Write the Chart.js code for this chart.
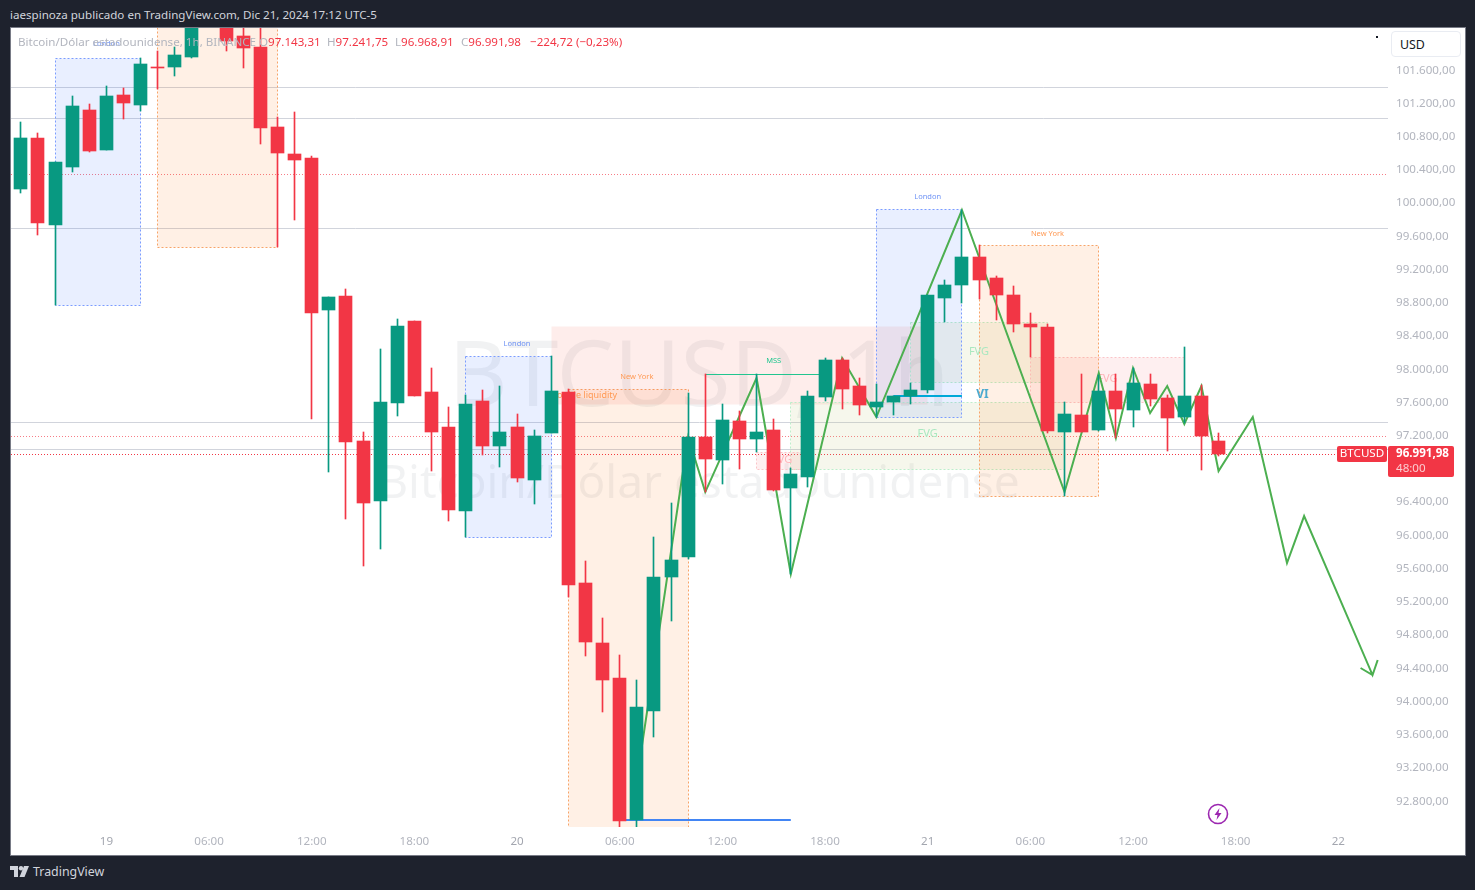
<!DOCTYPE html>
<html lang="es">
<head>
<meta charset="utf-8">
<title>BTCUSD 1h</title>
<script src="https://cdn.jsdelivr.net/npm/chart.js@4/dist/chart.umd.min.js"></script>
<style>
  html, body { margin: 0; padding: 0; background: #1e222d; overflow: hidden; }
  body { width: 1475px; height: 890px; position: relative; font-family: "Noto Sans", sans-serif; }
  .abs { position: absolute; white-space: nowrap; line-height: 16px; }
  #panel { position: absolute; left: 10px; top: 27px; width: 1454px; height: 827px; background: #fff; border: 1px solid #787b86; }
  #chart { position: absolute; left: 11px; top: 28px; }
  .leg { font-size: 11.6px; color: #b2b5be; top: 34px; }
  .red { color: #f23645; }
</style>
</head>
<body>
<div class="abs" style="left:10px;top:7px;font-size:11.6px;color:#d1d4dc">iaespinoza publicado en TradingView.com, Dic 21, 2024 17:12 UTC-5</div>
<div id="panel"></div>
<canvas id="chart" width="1453" height="826"></canvas>

<div class="abs leg" style="left:18px">Bitcoin/Dólar estadounidense, 1h, BINANCE</div>
<div class="abs leg" style="left:259px">O<span class="red">97.143,31</span></div>
<div class="abs leg" style="left:327px">H<span class="red">97.241,75</span></div>
<div class="abs leg" style="left:395px">L<span class="red">96.968,91</span></div>
<div class="abs leg" style="left:461px">C<span class="red">96.991,98</span></div>
<div class="abs leg red" style="left:530px">−224,72 (−0,23%)</div>

<div class="abs" style="left:1391px;top:31px;width:60px;height:24px;padding-left:8px;border:1px solid #e9ecf2;border-radius:4px;background:#fff;font-size:12.4px;line-height:25px;color:#131722">USD</div>
<div class="abs" style="left:1376px;top:36px;width:2px;height:2px;background:#131722"></div>

<svg class="abs" style="left:1207px;top:803px" width="22" height="22" viewBox="0 0 22 22">
  <circle cx="11" cy="11" r="9.5" fill="#fff" stroke="#9c27b0" stroke-width="1.6"/>
  <path d="M12.5 5 L7.5 12 H10.5 L9.5 17 L14.5 10 H11.5 Z" fill="#9c27b0"/>
</svg>

<svg class="abs" style="left:10px;top:866px" width="20" height="12" viewBox="0 0 20 12">
  <path d="M0 0 H8 V11 H4 V4 H0 Z" fill="#d1d4dc"/>
  <circle cx="11" cy="2.2" r="2.2" fill="#d1d4dc"/>
  <path d="M14 0 H19 L14.5 11 H9.5 Z" fill="#d1d4dc"/>
</svg>
<div class="abs" style="left:33px;top:864px;font-size:12.4px;color:#d1d4dc">TradingView</div>

<script>
// Hours counted from 19 Dec 00:00, one candle per hour
const hours = [
  -5, -4, -3, -2, -1, 0, 1, 2, 3, 4,
  5, 6, 7, 8, 9, 10, 11, 12, 13, 14,
  15, 16, 17, 18, 19, 20, 21, 22, 23, 24,
  25, 26, 27, 28, 29, 30, 31, 32, 33, 34,
  35, 36, 37, 38, 39, 40, 41, 42, 43, 44,
  45, 46, 47, 48, 49, 50, 51, 52, 53, 54,
  55, 56, 57, 58, 59, 60, 61, 62, 63, 64,
  65,
];
const opens = [
  100182, 100796, 99748, 100447, 101133, 100651, 101313, 101193, 101650, 101650,
  101771, 102240, 102200, 102024, 101891, 100928, 100603, 100555, 98725, 98894,
  97148, 96426, 97606, 98593, 97738, 97317, 96306, 97630, 97088, 97317,
  96679, 97245, 97738, 95439, 94717, 94295, 92586, 93898, 95511, 95752,
  97196, 96919, 97389, 97172, 97281, 96583, 96715, 97678, 98123, 97810,
  97557, 97618, 97690, 97762, 98870, 99026, 99363, 99110, 98906, 98557,
  98521, 97257, 97461, 97281, 97750, 97521, 97834, 97666, 97437, 97690,
  97143.31,
];
const highs = [
  100988, 100856, 100507, 101301, 101205, 101422, 101398, 101759, 101843, 101891,
  102337, 102400, 102300, 102200, 102150, 101049, 101109, 100579, 98882, 98978,
  97257, 98256, 98617, 98593, 98027, 97557, 97702, 97762, 97810, 97473,
  97281, 98171, 97774, 95704, 95017, 94572, 94271, 95992, 96402, 97726,
  97955, 97594, 97509, 97955, 97413, 96823, 97750, 98147, 98147, 97907,
  97834, 97690, 97846, 98906, 99086, 99929, 99508, 99134, 99014, 98689,
  98557, 97618, 97955, 97943, 97955, 98027, 97955, 97702, 98280, 97822,
  97241.75,
];
const lows = [
  100134, 99628, 98785, 100386, 100627, 100651, 101024, 101121, 101386, 101542,
  101759, 102180, 101843, 101638, 100724, 99484, 99809, 97413, 96775, 96209,
  95643, 95848, 97449, 97690, 96787, 96185, 95992, 96980, 96835, 96655,
  96390, 97245, 95270, 94560, 93886, 92490, 92490, 93585, 94981, 95728,
  96534, 96631, 96811, 97016, 96546, 95547, 96595, 97630, 97533, 97461,
  97437, 97461, 97594, 97726, 98581, 98809, 98858, 98605, 98460, 98159,
  97245, 96486, 97257, 97269, 97184, 97317, 97570, 97028, 97365, 96799,
  96968.91,
];
const closes = [
  100796, 99773, 100507, 101181, 100639, 101301, 101217, 101687, 101638, 101795,
  102240, 102350, 101963, 101879, 100916, 100615, 100531, 98689, 98882, 97136,
  96402, 97618, 98533, 97690, 97257, 96318, 97594, 97088, 97257, 96703,
  97208, 97750, 95415, 94729, 94271, 92574, 93946, 95511, 95716, 97196,
  96932, 97401, 97172, 97257, 96558, 96751, 97690, 98123, 97774, 97581,
  97618, 97690, 97762, 98906, 99026, 99363, 99086, 98906, 98557, 98521,
  97269, 97473, 97257, 97750, 97533, 97846, 97654, 97425, 97690, 97208,
  96991.98,
];

// Drawn zigzag (the last points make the small arrow head)
const pathHours = [31, 34, 35, 38, 40, 43, 45, 50, 56, 58, 59, 60, 61, 62, 63, 64, 65, 67, 69, 70, 74, 74.3, 74, 73.3];
const pathPrices = [93067, 97196, 96534, 97907, 95547, 98147, 97437, 99929, 96534, 97967, 97184, 98027, 97485, 97810, 97353, 97810, 96787, 97437, 95680, 96245, 94331, 94512, 94331, 94416];

// Axis ticks
const priceTicks = [
  92800, 93200, 93600, 94000, 94400, 94800, 95200, 95600, 96000, 96400,
  97200, 97600, 98000, 98400, 98800, 99200, 99600, 100000, 100400, 100800,
  101200, 101600,
];
const timeTicks = [0, 6, 12, 18, 24, 30, 36, 42, 48, 54, 60, 66, 72];
const timeLabels = ["19", "06:00", "12:00", "18:00", "20", "06:00", "12:00", "18:00", "21", "06:00", "12:00", "18:00", "22"];

// Session boxes and fair value gaps
const zoneKinds = ["london", "newyork", "london", "newyork", "block", "fvgGreen", "fvgGreen", "fvgRed", "fvgRed", "newyork", "london"];
const zoneStart = [-3, 3, 21, 27, 26, 40, 47, 54, 38, 51, 45];
const zoneEnd = [2, 10, 26, 34, 48, 56, 55, 63, 41, 58, 50];
const zoneHigh = [101759, 102300, 98171, 97774, 98533, 97618, 98581, 98159, 97016, 99508, 99941];
const zoneLow = [98785, 99484, 95992, 92400, 97594, 96811, 97857, 97618, 96811, 96492, 97437];

// Horizontal levels
const greyLevels = [101406, 101033, 99709, 97373, 97048];
const dottedLevels = [100359, 97205];

// Short segments: market structure shift, low sweep and volume imbalance
const segmentStart = [35, 30, 46];
const segmentEnd = [42, 40, 50];
const segmentPrice = [97951, 92586, 97690];
const segmentColor = ["#22c58f", "#4285f4", "#00a8d8"];
const segmentWidth = [1, 2, 2];

// Notes on the chart
const noteText = ["London", "London", "New York", "London", "New York", "MSS", "Double liquidity", "FVG", "FVG", "FVG", "FVG", "VI"];
const noteHour = [0, 24, 31, 48, 55, 39, 27.9, 51, 48, 58.5, 39.5, 51.2];
const notePrice = [101927, 98316, 97919, 100086, 99640, 98111, 97696, 98220, 97233, 97895, 96919, 97702];
const noteColor = ["#6f93f5", "#6f93f5", "#ff9a55", "#6f93f5", "#ff9a55", "#22c58f", "#ff9a55", "#a9e8c0", "#a9e8c0", "#ffb3b8", "#ffb3b8", "#4aa9cf"];
const noteFont = ["7.5px", "7.5px", "7.5px", "7.5px", "7.5px", "7.5px", "9px", "11px", "11px", "11px", "11px", "bold 12px"];

const UP = "#089981";
const DOWN = "#f23645";
const FONT = '"Noto Sans", sans-serif';
const lastClose = closes[closes.length - 1];

const zoneStyles = {
  london: { fill: "rgba(41,98,255,0.1)", line: "#7b9cff" },
  newyork: { fill: "rgba(255,109,0,0.1)", line: "#f7a468" },
  block: { fill: "rgba(242,80,60,0.1)", line: null },
  fvgRed: { fill: "rgba(242,54,69,0.08)", line: "#fbc4c8" },
  fvgGreen: { fill: "rgba(190,200,120,0.14)", line: "#bdeecb" },
};

function formatPrice(v) {
  const whole = Math.floor(v).toString().replace(/\B(?=(\d{3})+$)/g, ".");
  return whole + "," + v.toFixed(2).split(".")[1];
}

function hLine(ctx, area, y, color, dash) {
  ctx.save();
  ctx.strokeStyle = color;
  ctx.lineWidth = 1;
  ctx.setLineDash(dash);
  ctx.beginPath();
  ctx.moveTo(area.left, Math.floor(y) + 0.5);
  ctx.lineTo(area.right, Math.floor(y) + 0.5);
  ctx.stroke();
  ctx.restore();
}

// Keep candle edges on whole pixels, TradingView draws them crisp
const snapBars = {
  id: "snapBars",
  afterDatasetsUpdate(chart) {
    chart.data.datasets.forEach((ds, i) => {
      if (ds.type !== "bar") return;
      chart.getDatasetMeta(i).data.forEach((el) => {
        el.x = Math.floor(el.x) + 0.5;
        const top = Math.round(Math.min(el.y, el.base));
        let bottom = Math.round(Math.max(el.y, el.base));
        if (bottom === top) bottom = top + 1;
        el.y = top;
        el.base = bottom;
      });
    });
  },
};

// Watermark, levels, boxes and notes sit under the candles
const overlays = {
  id: "overlays",
  beforeDatasetsDraw(chart) {
    const { ctx, chartArea: area, scales: { x, y } } = chart;
    ctx.save();
    ctx.beginPath();
    ctx.rect(area.left, area.top, area.width, area.height);
    ctx.clip();

    ctx.fillStyle = "rgba(120,123,134,0.1)";
    ctx.textAlign = "center";
    ctx.textBaseline = "middle";
    ctx.font = "91px " + FONT;
    ctx.fillText("BTCUSD, 1h", 688, 352);
    ctx.font = "46px " + FONT;
    ctx.fillText("Bitcoin/Dólar estadounidense", 688, 457);

    greyLevels.forEach((p) => hLine(ctx, area, y.getPixelForValue(p), "#d1d4dc", []));
    dottedLevels.forEach((p) => hLine(ctx, area, y.getPixelForValue(p), "rgba(242,54,69,0.65)", [1, 2]));
    hLine(ctx, area, y.getPixelForValue(lastClose), "#f23645", [1, 2]);

    zoneKinds.forEach((kind, i) => {
      const style = zoneStyles[kind];
      const left = Math.floor(x.getPixelForValue(zoneStart[i])) + 0.5;
      const right = Math.floor(x.getPixelForValue(zoneEnd[i])) + 0.5;
      const top = Math.round(y.getPixelForValue(zoneHigh[i])) + 0.5;
      const bottom = Math.round(y.getPixelForValue(zoneLow[i])) + 0.5;
      ctx.fillStyle = style.fill;
      ctx.fillRect(left, top, right - left, bottom - top);
      if (style.line) {
        ctx.strokeStyle = style.line;
        ctx.lineWidth = 1;
        ctx.setLineDash([2, 2]);
        ctx.strokeRect(left, top, right - left, bottom - top);
      }
    });
    ctx.setLineDash([]);

    segmentPrice.forEach((p, i) => {
      const py = Math.round(y.getPixelForValue(p));
      ctx.strokeStyle = segmentColor[i];
      ctx.lineWidth = segmentWidth[i];
      ctx.beginPath();
      ctx.moveTo(x.getPixelForValue(segmentStart[i]), py + (segmentWidth[i] === 1 ? 0.5 : 0));
      ctx.lineTo(x.getPixelForValue(segmentEnd[i]), py + (segmentWidth[i] === 1 ? 0.5 : 0));
      ctx.stroke();
    });

    noteText.forEach((t, i) => {
      ctx.font = noteFont[i] + " " + FONT;
      ctx.fillStyle = noteColor[i];
      ctx.fillText(t, x.getPixelForValue(noteHour[i]), y.getPixelForValue(notePrice[i]));
    });
    ctx.restore();
  },
  afterDraw(chart) {
    const { ctx, scales: { y } } = chart;
    const py = Math.round(y.getPixelForValue(lastClose));
    ctx.save();
    ctx.fillStyle = DOWN;
    ctx.beginPath();
    ctx.roundRect(1326, py - 8, 50, 16, 2);
    ctx.fill();
    ctx.beginPath();
    ctx.roundRect(1377, py - 8, 66, 31, 2);
    ctx.fill();
    ctx.fillStyle = "#fff";
    ctx.textBaseline = "middle";
    ctx.textAlign = "center";
    ctx.font = "11.6px " + FONT;
    ctx.fillText("BTCUSD", 1351, py);
    ctx.textAlign = "left";
    ctx.font = "bold 11.6px " + FONT;
    ctx.fillText(formatPrice(lastClose), 1385, py);
    ctx.font = "11.6px " + FONT;
    ctx.fillStyle = "rgba(255,255,255,0.75)";
    ctx.fillText("48:00", 1385, py + 15);
    ctx.restore();
  },
};

function noPadding(scale) {
  scale.paddingTop = 0;
  scale.paddingBottom = 0;
  scale.paddingLeft = 0;
  scale.paddingRight = 0;
}

const candleColors = opens.map((o, i) => (closes[i] >= o ? UP : DOWN));

new Chart(document.getElementById("chart"), {
  data: {
    datasets: [
      {
        type: "bar",
        order: 1,
        grouped: false,
        barThickness: 13,
        backgroundColor: candleColors,
        data: hours.map((h, i) => ({ x: h, y: [opens[i], closes[i]] })),
      },
      {
        type: "bar",
        order: 2,
        grouped: false,
        barThickness: 1,
        backgroundColor: candleColors,
        data: hours.map((h, i) => ({ x: h, y: [lows[i], highs[i]] })),
      },
      {
        type: "line",
        order: 3,
        borderColor: "#4caf50",
        borderWidth: 2,
        pointRadius: 0,
        tension: 0,
        data: pathHours.map((h, i) => ({ x: h, y: pathPrices[i] })),
      },
    ],
  },
  options: {
    responsive: false,
    devicePixelRatio: 1,
    animation: false,
    layout: { padding: 0 },
    plugins: { legend: { display: false }, tooltip: { enabled: false } },
    scales: {
      x: {
        type: "linear",
        offset: false,
        min: -5.576,
        max: 74.903,
        grid: { display: false },
        border: { display: false },
        afterBuildTicks(s) {
          s.ticks = timeTicks.map((v) => ({ value: v }));
        },
        afterFit(s) {
          s.height = 27;
          noPadding(s);
        },
        ticks: {
          autoSkip: false,
          maxRotation: 0,
          padding: 0,
          font: { family: FONT, size: 11.6 },
          color: (c) => (c.index % 4 === 0 ? "#a3a6af" : "#b2b5be"),
          callback: (v, i) => timeLabels[i],
        },
      },
      y: {
        type: "linear",
        position: "right",
        offset: false,
        min: 92502,
        max: 102120,
        grid: { display: false },
        border: { display: false },
        afterBuildTicks(s) {
          s.ticks = priceTicks.map((v) => ({ value: v }));
        },
        afterFit(s) {
          s.width = 76;
          noPadding(s);
        },
        ticks: {
          autoSkip: false,
          padding: 0,
          labelOffset: -1,
          font: { family: FONT, size: 11.6 },
          color: "#b2b5be",
          callback: (v) => formatPrice(v),
        },
      },
    },
  },
  plugins: [snapBars, overlays],
});
</script>
</body>
</html>
